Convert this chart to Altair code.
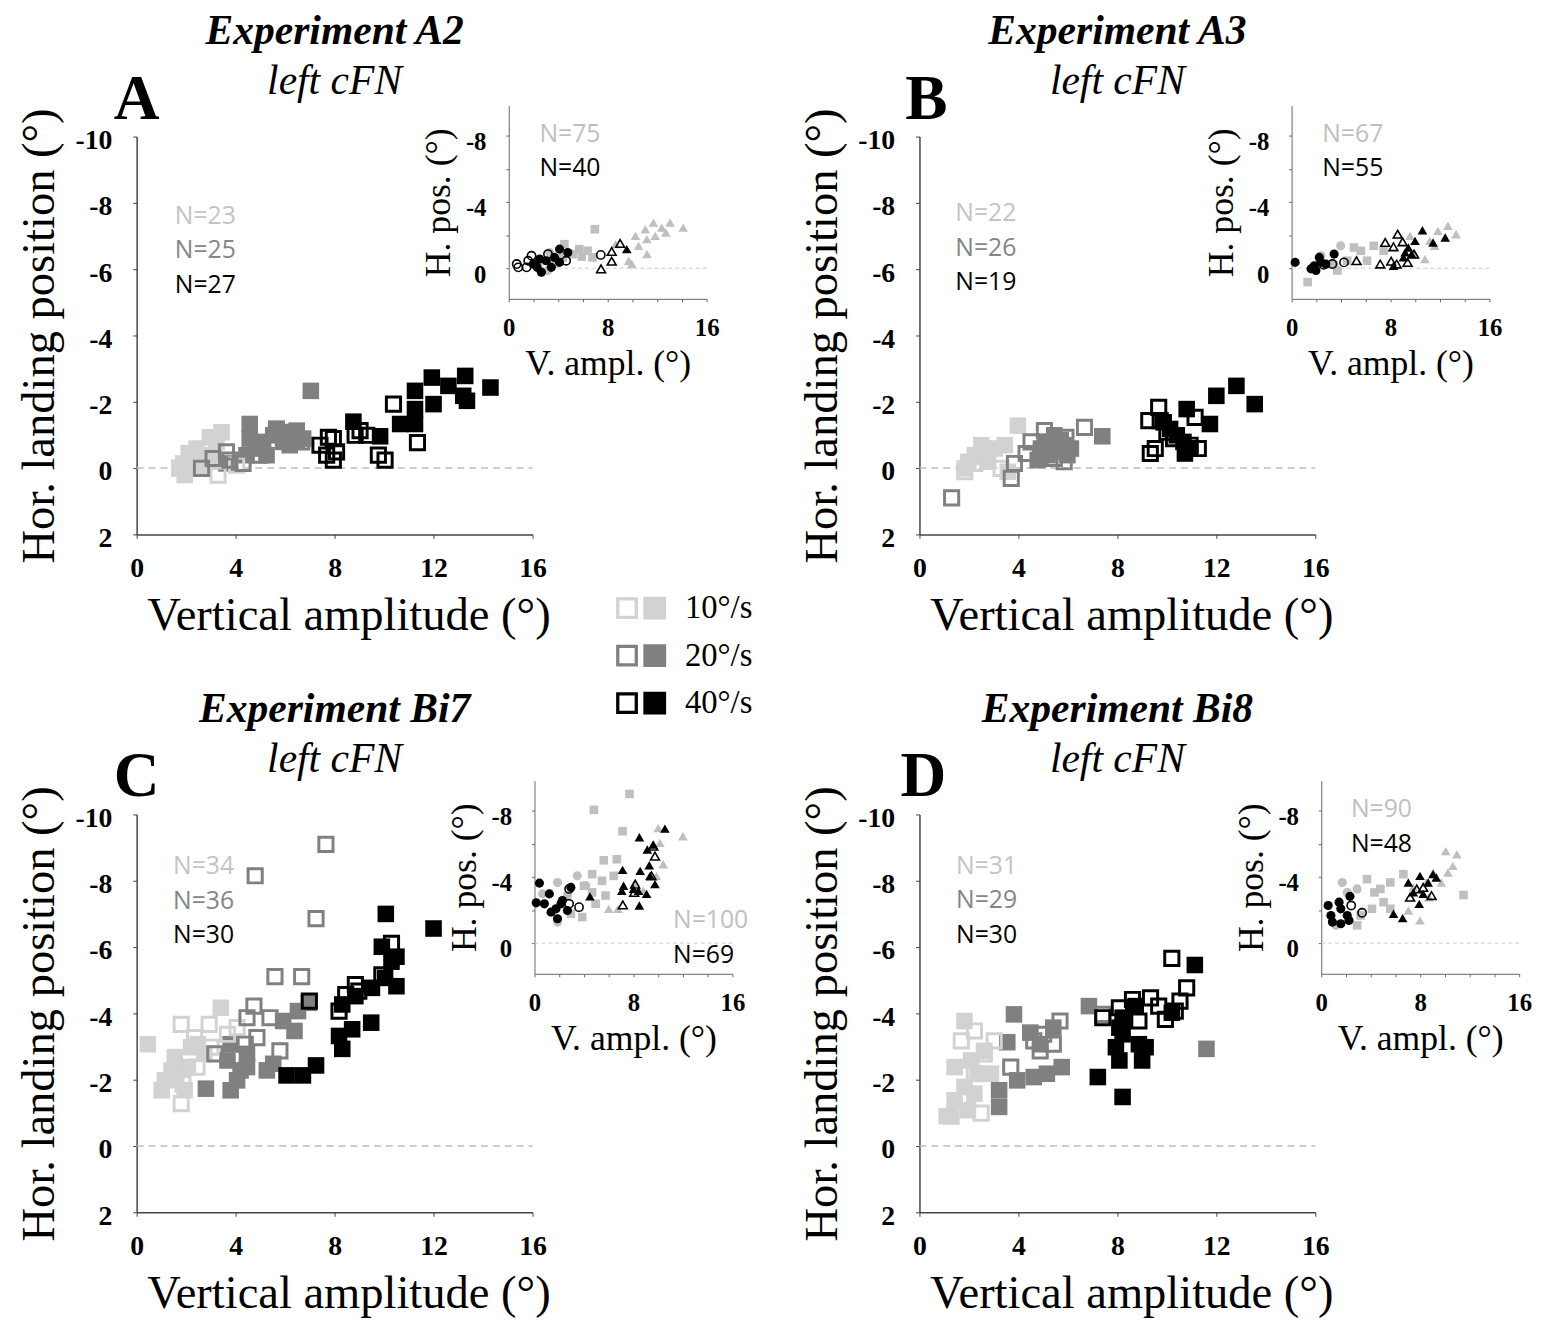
import altair as alt
import pandas as pd

# ------------------------------------------------------------------ data
SPEEDS = ["10°/s", "20°/s", "40°/s"]
OPEN_KEYS = ["open 10°/s", "open 20°/s", "open 40°/s"]

# Panel A (Experiment A2) : (vertical amplitude, horizontal landing position)
A_S10_FILLED = [(3.43, -1.08), (2.96, -0.93), (2.42, -0.59), (1.88, -0.14), (2.28, -0.29), (1.74, 0.01),
                (1.94, 0.21), (2.68, -0.39), (3.23, -0.79), (2.1, -0.45), (3.0, -0.2), (2.5, -0.05)]
A_S10_OPEN = [(1.74, 0.0), (3.29, 0.21), (2.15, -0.19), (4.04, -0.09), (2.6, -0.3)]
A_S20_FILLED = [(7.04, -2.33), (4.57, -1.33), (4.57, -0.89), (4.85, -0.59), (5.11, -0.79), (5.52, -0.99),
                (5.65, -1.18), (6.06, -1.08), (6.47, -1.13), (6.47, -0.84), (5.92, -0.79), (5.25, -0.39),
                (4.44, -0.39), (3.63, -0.14), (6.73, -0.89), (6.19, -0.69)]
A_S20_OPEN = [(2.62, 0.01), (3.09, -0.29), (3.63, -0.49), (4.3, -0.14), (5.65, -1.18), (6.67, -0.79),
              (3.77, -0.24), (4.98, -0.39), (5.86, -1.08)]
A_S40_FILLED = [(8.76, -1.40), (9.84, -0.96), (11.25, -2.33), (11.25, -1.78), (10.65, -1.33), (11.25, -1.33),
                (11.93, -2.73), (12.0, -1.93), (12.6, -2.48), (13.28, -2.78), (13.2, -2.18), (13.35, -2.03),
                (14.3, -2.43)]
A_S40_OPEN = [(10.38, -1.93), (11.35, -0.77), (7.41, -0.69), (7.95, -0.89), (8.08, -0.49), (7.68, -0.39),
              (7.95, -0.24), (8.83, -0.99), (9.3, -0.99), (9.77, -0.39), (10.04, -0.24), (7.75, -0.93),
              (9.03, -1.13)]

# Panel B (Experiment A3)
B_S10_FILLED = [(3.98, -1.28), (2.5, -0.69), (1.97, -0.19), (2.24, -0.39), (3.04, -0.59), (3.45, -0.69),
                (2.77, -0.19), (3.57, 0.11), (1.83, 0.01), (2.7, -0.45)]
B_S10_OPEN = [(1.83, 0.11), (2.24, -0.14), (3.3, 0.01), (2.64, -0.34)]
B_S20_FILLED = [(7.39, -0.96), (5.45, -0.99), (5.85, -0.69), (5.18, -0.39), (4.91, -0.59), (5.98, -0.39),
                (4.78, -0.24), (5.71, -0.84), (5.31, -0.69), (6.12, -0.59), (5.6, -0.5), (5.1, -0.8)]
B_S20_OPEN = [(1.3, 0.9), (3.71, 0.31), (3.84, -0.14), (4.31, -0.44), (4.51, -0.79), (5.05, -1.13),
              (6.67, -1.23), (5.92, -0.93), (5.85, -0.19), (5.45, -0.29)]
B_S40_FILLED = [(10.8, -1.78), (12.0, -2.18), (12.81, -2.48), (13.55, -1.93), (11.74, -1.33), (9.87, -1.38),
                (10.13, -1.18), (10.4, -0.99), (10.67, -0.79), (10.73, -0.44), (10.94, -0.59)]
B_S40_OPEN = [(9.67, -1.83), (9.27, -1.43), (9.73, -1.43), (11.14, -1.53), (9.33, -0.44), (9.53, -0.59),
              (11.27, -0.59), (10.94, -0.69), (10.0, -1.08), (10.27, -0.89)]

# Panel C (Experiment Bi7)
C_S10_FILLED = [(3.4, -4.17), (0.45, -3.07), (1.54, -2.68), (1.14, -1.98), (2.07, -2.38), (2.47, -3.07),
                (2.74, -2.78), (1.94, -1.68), (1.41, -2.28), (2.2, -2.98), (1.01, -1.68), (1.6, -2.0)]
C_S10_OPEN = [(1.8, -3.67), (2.93, -3.67), (4.06, -3.57), (2.34, -3.27), (1.8, -1.28), (1.87, -1.88),
              (2.44, -2.38), (3.0, -2.98), (3.67, -3.37), (1.54, -2.18)]
C_S20_FILLED = [(6.96, -4.32), (6.52, -4.07), (6.38, -3.47), (5.92, -3.77), (5.52, -2.48), (5.26, -2.28),
                (4.46, -2.78), (3.8, -3.07), (3.67, -2.58), (4.2, -2.28), (3.8, -1.68), (2.8, -1.73),
                (4.06, -1.98), (4.46, -2.38)]
C_S20_OPEN = [(7.65, -9.1), (4.79, -8.15), (7.25, -6.86), (5.59, -5.11), (6.67, -5.11), (4.74, -4.22),
              (5.39, -3.87), (4.46, -3.87), (4.86, -3.27), (5.79, -2.87), (3.16, -2.78), (4.39, -3.07)]
C_S40_FILLED = [(10.07, -7.0), (12.0, -6.56), (9.91, -6.01), (10.5, -5.71), (10.04, -5.07), (10.5, -4.82),
                (9.51, -4.77), (8.31, -4.27), (8.84, -4.52), (9.48, -3.72), (8.71, -3.52), (8.18, -3.32),
                (8.31, -2.93), (7.25, -2.43), (6.72, -2.13), (6.06, -2.13), (10.3, -5.56)]
C_S40_OPEN = [(10.3, -6.11), (8.84, -4.87), (8.45, -4.57), (6.98, -4.37), (9.91, -5.16), (8.98, -4.67),
              (8.18, -4.07)]

# Panel D (Experiment Bi8)
D_S10_FILLED = [(1.82, -3.77), (1.42, -2.38), (2.09, -2.58), (2.62, -2.87), (1.82, -1.78), (1.42, -1.38),
                (1.29, -0.89), (2.22, -1.58), (2.89, -2.18), (1.96, -1.08), (2.35, -2.18), (1.1, -0.9)]
D_S10_OPEN = [(2.22, -3.47), (3.02, -3.17), (2.62, -2.78), (2.22, -2.18), (2.49, -0.99), (1.69, -3.17)]
D_S20_FILLED = [(11.6, -2.93), (6.85, -4.22), (3.82, -3.97), (3.55, -3.13), (4.48, -3.42), (5.41, -3.57),
                (5.75, -2.38), (5.15, -2.18), (4.62, -2.08), (3.95, -1.98), (3.22, -1.68), (3.22, -1.18),
                (4.88, -3.07)]
D_S20_OPEN = [(5.68, -3.77), (7.41, -3.97), (3.69, -2.38), (4.62, -3.17), (5.02, -3.37), (5.41, -3.07),
              (4.88, -2.87)]
D_S40_FILLED = [(11.13, -5.46), (10.2, -4.02), (8.74, -4.22), (8.21, -3.87), (8.08, -3.57), (8.21, -3.37),
                (8.87, -3.07), (9.14, -2.98), (7.94, -2.98), (8.08, -2.58), (9.0, -2.58), (7.21, -2.08),
                (8.21, -1.48)]
D_S40_OPEN = [(10.2, -5.66), (10.8, -4.77), (10.53, -4.37), (10.34, -4.07), (9.34, -4.47), (8.61, -4.42),
              (8.08, -4.17), (9.67, -4.22), (9.94, -3.82), (8.87, -3.77), (7.41, -3.87)]

# Insets: (V. ampl., H. pos.)
IA_GREY_CIR = [(3.3, -0.95), (2.77, -0.45), (3.7, -0.25), (3.17, 0.14), (2.2, -0.3)]
IA_GREY_SQ = [(6.96, -2.35), (4.5, -1.45), (5.7, -1.15), (6.37, -1.05), (5.17, -0.85), (6.77, -0.65),
              (4.37, -0.65), (5.9, -0.7)]
IA_GREY_TRI = [(8.64, -1.45), (10.24, -1.95), (11.04, -2.35), (11.7, -2.75), (12.37, -2.45), (13.04, -2.75),
               (14.1, -2.45), (11.84, -1.95), (12.7, -2.15), (11.17, -1.75), (10.5, -1.35), (11.17, -0.85),
               (9.7, -0.45), (9.95, -0.25)]
IA_BLACK_CIR = [(4.11, -1.15), (4.77, -0.95), (2.5, -0.55), (1.97, -0.25), (3.04, -0.45), (2.64, 0.24),
                (3.44, -0.05), (4.1, -0.35), (2.3, -0.05), (3.7, -0.65)]
IA_BLACK_CIR_OPEN = [(0.77, -0.05), (0.64, -0.25), (1.57, -0.45), (1.44, -0.05), (1.84, -0.75), (3.17, -0.85),
                     (7.44, -0.8), (4.64, -0.45)]
IA_BLACK_TRI = [(9.54, -1.15)]
IA_BLACK_TRI_OPEN = [(9.0, -1.49), (8.32, -1.01), (8.32, -0.42), (7.46, 0.04)]

IB_GREY_CIR = [(3.97, -1.35), (2.37, -0.75), (3.44, -0.25)]
IB_GREY_SQ = [(6.64, -1.35), (5.04, -1.25), (5.6, -1.05), (7.44, -1.05), (4.5, -0.45), (6.1, -0.45),
              (3.7, 0.14), (1.3, 0.84)]
IB_GREY_TRI = [(12.64, -2.55), (11.84, -2.25), (13.3, -2.05), (9.58, -1.95), (11.18, -1.65), (11.58, -1.35),
               (10.78, -0.55), (9.98, -0.85)]
IB_BLACK_CIR = [(0.29, -0.35), (2.24, -0.65), (3.44, -0.85), (1.84, -0.15), (2.37, -0.35), (1.57, 0.04),
                (2.77, -0.25), (1.97, 0.14)]
IB_BLACK_CIR_OPEN = [(4.24, -0.35), (3.3, -0.25), (2.6, -0.2)]
IB_BLACK_TRI = [(10.58, -2.29), (12.42, -1.85), (11.44, -1.55), (9.98, -1.65), (9.44, -1.25), (9.18, -0.95),
                (9.7, -0.85), (8.24, -0.15), (9.04, -0.65)]
IB_BLACK_TRI_OPEN = [(5.25, -0.45), (7.57, -1.55), (8.58, -2.05), (8.98, -1.59), (8.24, -1.29), (7.17, -0.25),
                     (8.05, -0.42), (8.5, -0.25), (9.38, -0.35), (9.9, -0.85)]

IC_GREY_CIR = [(0.66, -2.97), (1.86, -3.66), (3.46, -4.06), (4.14, -3.46), (2.66, -2.87), (1.86, -1.27)]
IC_GREY_SQ = [(7.68, -9.0), (4.8, -8.04), (7.12, -6.75), (5.6, -5.0), (6.66, -5.06), (4.66, -4.16),
              (5.46, -3.76), (6.4, -4.06), (4.0, -3.46), (4.66, -3.06), (5.74, -2.87), (3.86, -1.57),
              (2.94, -1.77), (4.94, -2.37)]
IC_GREY_TRI = [(10.0, -6.94), (12.0, -6.45), (10.14, -6.05), (10.4, -4.76), (9.86, -4.06), (8.8, -3.16),
               (8.14, -3.66), (6.0, -2.07), (6.74, -2.07)]
IC_BLACK_CIR = [(0.4, -3.62), (1.2, -2.97), (0.14, -2.43), (0.8, -2.37), (1.74, -2.07), (1.34, -1.87),
                (2.26, -2.57), (2.94, -3.36), (1.86, -1.47), (2.66, -1.97), (2.14, -2.37)]
IC_BLACK_CIR_OPEN = [(2.8, -3.27), (3.6, -2.17), (2.8, -2.37)]
IC_BLACK_TRI = [(10.54, -6.91), (8.48, -6.39), (9.12, -5.65), (9.6, -5.95), (9.28, -4.70), (8.54, -4.36),
                (7.12, -4.42), (7.2, -3.46), (7.06, -3.16), (8.0, -3.27), (8.4, -3.16), (9.06, -2.97),
                (9.74, -3.56), (4.48, -2.82), (8.48, -2.27), (9.34, -4.06)]
IC_BLACK_TRI_OPEN = [(9.74, -5.25), (9.6, -5.85), (9.46, -4.06), (8.14, -3.56), (8.06, -3.06), (7.14, -2.31)]

ID_GREY_CIR = [(1.7, -3.66), (2.1, -3.06), (1.18, -1.07), (2.9, -3.27)]
ID_GREY_SQ = [(11.5, -2.9), (6.64, -4.16), (3.7, -3.86), (5.58, -3.66), (4.78, -3.27), (4.3, -3.06),
              (5.04, -2.47), (4.1, -2.07), (3.18, -1.67), (2.9, -1.07), (5.58, -2.07)]
ID_GREY_TRI = [(10.06, -5.55), (10.96, -5.35), (10.64, -4.66), (10.24, -4.26), (9.04, -4.26), (9.7, -3.66),
               (8.5, -3.66), (7.98, -1.37), (7.04, -1.97), (8.7, -2.77), (7.44, -3.36)]
ID_BLACK_CIR = [(2.32, -2.82), (0.56, -2.27), (0.78, -1.67), (1.58, -2.07), (2.1, -1.67), (0.9, -1.27),
                (1.58, -1.17), (2.24, -1.37), (1.44, -2.47)]
ID_BLACK_CIR_OPEN = [(2.42, -2.27), (3.3, -1.83)]
ID_BLACK_TRI = [(5.84, -1.77), (6.58, -1.51), (7.92, -2.37), (7.04, -3.66), (7.98, -4.06), (9.04, -4.16),
                (9.3, -3.96), (8.24, -2.97), (7.44, -3.06), (8.64, -3.66)]
ID_BLACK_TRI_OPEN = [(7.18, -2.77), (7.72, -3.27), (8.92, -2.87), (8.24, -3.36)]

TITLES = ["Experiment A2", "Experiment A3", "Experiment Bi7", "Experiment Bi8"]
SUBTITLE = "left cFN"
LETTERS = ["A", "B", "C", "D"]
N_MAIN = [["N=23", "N=25", "N=27"], ["N=22", "N=26", "N=19"],
          ["N=34", "N=36", "N=30"], ["N=31", "N=29", "N=30"]]
N_INSET = [["N=75", "N=40"], ["N=67", "N=55"], ["N=100", "N=69"], ["N=90", "N=48"]]

MAIN = [
    {"10°/s": (A_S10_FILLED, A_S10_OPEN), "20°/s": (A_S20_FILLED, A_S20_OPEN), "40°/s": (A_S40_FILLED, A_S40_OPEN)},
    {"10°/s": (B_S10_FILLED, B_S10_OPEN), "20°/s": (B_S20_FILLED, B_S20_OPEN), "40°/s": (B_S40_FILLED, B_S40_OPEN)},
    {"10°/s": (C_S10_FILLED, C_S10_OPEN), "20°/s": (C_S20_FILLED, C_S20_OPEN), "40°/s": (C_S40_FILLED, C_S40_OPEN)},
    {"10°/s": (D_S10_FILLED, D_S10_OPEN), "20°/s": (D_S20_FILLED, D_S20_OPEN), "40°/s": (D_S40_FILLED, D_S40_OPEN)},
]
INSETS = [
    [IA_GREY_CIR, IA_GREY_SQ, IA_GREY_TRI, IA_BLACK_CIR, IA_BLACK_CIR_OPEN, IA_BLACK_TRI, IA_BLACK_TRI_OPEN],
    [IB_GREY_CIR, IB_GREY_SQ, IB_GREY_TRI, IB_BLACK_CIR, IB_BLACK_CIR_OPEN, IB_BLACK_TRI, IB_BLACK_TRI_OPEN],
    [IC_GREY_CIR, IC_GREY_SQ, IC_GREY_TRI, IC_BLACK_CIR, IC_BLACK_CIR_OPEN, IC_BLACK_TRI, IC_BLACK_TRI_OPEN],
    [ID_GREY_CIR, ID_GREY_SQ, ID_GREY_TRI, ID_BLACK_CIR, ID_BLACK_CIR_OPEN, ID_BLACK_TRI, ID_BLACK_TRI_OPEN],
]

# ------------------------------------------------------------------ styling / layout
SERIF = "Liberation Serif"
SANS = "Open Sans"
MAIN_COLORS = ["#d2d2d2", "#808080", "#000000"]
N_COLORS = ["#c4c4c4", "#858585", "#000000"]
INSET_GREY = "#bfbfbf"
INSET_STYLES = [  # colour, shape, filled, size
    (INSET_GREY, "circle", True, 85), (INSET_GREY, "square", True, 75), (INSET_GREY, "triangle-up", True, 95),
    ("#000000", "circle", True, 85), ("#000000", "circle", False, 70),
    ("#000000", "triangle-up", True, 95), ("#000000", "triangle-up", False, 80),
]
W, H = 400, 402
INSET_W = 200
INSET_PX = 16.75
INSET_DOM = [-9.8, 1.85]
# per panel: inset origin (x of 0, y of 0) in panel pixels, N label anchors, letter x
INSET_X0 = [376, 376, 402, 406]
INSET_Y0 = [133, 133, 130, 130]
N_MAIN_X = [1.54, 1.45, 1.47, 1.48]
N_MAIN_Y = [[-7.61, -6.57, -5.52], [-7.7, -6.63, -5.61], [-8.45, -7.40, -6.36], [-8.45, -7.43, -6.36]]
N_INSET_POS = [[(2.48, -8.12), (2.48, -6.03)], [(2.48, -8.12), (2.48, -6.03)],
               [(11.2, -1.37), (11.2, 0.72)], [(2.4, -8.06), (2.4, -5.97)]]
LETTER_POS = [(0.0, -11.11), (0.28, -11.11), (0.0, -11.11), (0.16, -11.11)]

NEG = "datum.value < 0 ? '-' + abs(datum.value) : '' + datum.value"


def pts(points, **cols):
    d = pd.DataFrame(points, columns=["x", "y"])
    for k, v in cols.items():
        d[k] = v
    return d


def build_panel(i):
    xs = alt.Scale(domain=[0, 16], nice=False, zero=False)
    ys = alt.Scale(domain=[-10, 2], reverse=True, nice=False, zero=False)
    X = alt.X("x:Q", scale=xs, axis=alt.Axis(
        values=[0, 4, 8, 12, 16], title="Vertical amplitude (°)", grid=False,
        labelFont=SERIF, labelFontSize=28, labelFontWeight="bold", labelColor="black",
        labelPadding=17, labelFlush=False, labelOverlap=False,
        tickSize=4, tickColor="#444", domainColor="#444", domainWidth=1.5,
        titleFont=SERIF, titleFontSize=47, titleFontWeight="normal", titleColor="black", titlePadding=10,
        titleX=214))
    Y = alt.Y("y:Q", scale=ys, axis=alt.Axis(
        values=list(range(-10, 3, 2)), labelExpr=NEG, title="Hor. landing position (°)", grid=False,
        labelFont=SERIF, labelFontSize=28, labelFontWeight="bold", labelColor="black",
        labelPadding=21, labelFlush=False, labelOverlap=False, labelOffset=4,
        tickSize=4, tickColor="#444", domainColor="#444", domainWidth=1.5,
        titleFont=SERIF, titleFontSize=47, titleFontWeight="normal", titleColor="black", titlePadding=12))

    main = MAIN[i]
    filled = pd.concat([pts(main[s][0], speed=s) for s in SPEEDS], ignore_index=True)
    opened = pd.concat([pts(main[s][1], okey=OPEN_KEYS[j]) for j, s in enumerate(SPEEDS)], ignore_index=True)

    if i == 0:
        fill_legend = alt.Legend(orient="none", legendX=507, legendY=460, title=None, padding=0,
                                 symbolType="square", symbolSize=530, symbolStrokeWidth=0,
                                 labelFont=SERIF, labelFontSize=33, labelColor="black", labelOffset=14,
                                 rowPadding=14)
        open_legend = alt.Legend(orient="none", legendX=479, legendY=460, title=None, padding=0,
                                 symbolType="square", symbolSize=350, symbolStrokeWidth=3.3,
                                 labelExpr="''", labelFontSize=33, labelOffset=0, rowPadding=14)
    else:
        fill_legend = None
        open_legend = None

    zero = alt.Chart(pd.DataFrame({"x": [0], "x2": [16], "y": [0]})).mark_rule(
        color="#bdbdbd", strokeWidth=1.5, strokeDash=[7, 5]).encode(x=X, x2="x2:Q", y=Y)
    filled_layer = alt.Chart(filled).mark_square(size=280, opacity=1, strokeWidth=0).encode(
        x=X, y=Y, fill=alt.Fill("speed:N", scale=alt.Scale(domain=SPEEDS, range=MAIN_COLORS), legend=fill_legend))
    open_layer = alt.Chart(opened).mark_point(shape="square", filled=False, size=205, strokeWidth=3,
                                              opacity=1).encode(
        x=X, y=Y, stroke=alt.Stroke("okey:N", scale=alt.Scale(domain=OPEN_KEYS, range=MAIN_COLORS),
                                    legend=open_legend))
    texts = []
    for j in range(3):
        df = pd.DataFrame({"x": [N_MAIN_X[i]], "y": [N_MAIN_Y[i][j]], "t": [N_MAIN[i][j]]})
        texts.append(alt.Chart(df).mark_text(align="left", baseline="middle", font=SANS, fontSize=25,
                                             color=N_COLORS[j]).encode(x=X, y=Y, text="t:N"))
    lx, ly = LETTER_POS[i]
    letter = alt.Chart(pd.DataFrame({"x": [lx], "y": [ly], "t": [LETTERS[i]]})).mark_text(
        align="center", baseline="middle", font=SERIF, fontSize=64, fontWeight="bold", color="black"
    ).encode(x=X, y=Y, text="t:N")
    main_group = alt.layer(zero, filled_layer, open_layer, *texts, letter)

    # ---- inset
    x0, y0 = INSET_X0[i], INSET_Y0[i]
    top_px = y0 + INSET_DOM[0] * INSET_PX
    bot_px = y0 + INSET_DOM[1] * INSET_PX
    XI = alt.X("x:Q", scale=alt.Scale(domain=[0, 16], range=[x0, x0 + INSET_W], nice=False, zero=False),
               axis=alt.Axis(orient="bottom", offset=bot_px - H, values=list(range(0, 17, 2)),
                             labelExpr="datum.value % 8 == 0 ? '' + datum.value : ''",
                             title="V. ampl. (°)", grid=False,
                             labelFont=SERIF, labelFontSize=25, labelFontWeight="bold", labelColor="black",
                             labelPadding=14, labelFlush=False, labelOverlap=False,
                             tickSize=3, tickColor="#666", domainColor="#666", domainWidth=1,
                             titleFont=SERIF, titleFontSize=36, titleFontWeight="normal", titleColor="black",
                             titlePadding=6))
    YI = alt.Y("y:Q", scale=alt.Scale(domain=INSET_DOM, range=[top_px, bot_px], nice=False, zero=False),
               axis=alt.Axis(orient="left", offset=-x0, values=[-8, -6, -4, -2, 0],
                             labelExpr="datum.value % 4 == 0 ? (" + NEG + ") : ''",
                             title="H. pos. (°)", grid=False,
                             labelFont=SERIF, labelFontSize=25, labelFontWeight="bold", labelColor="black",
                             labelPadding=20, labelFlush=False, labelOverlap=False, labelOffset=6,
                             tickSize=3, tickColor="#666", domainColor="#666", domainWidth=1,
                             titleFont=SERIF, titleFontSize=36, titleFontWeight="normal", titleColor="black",
                             titlePadding=8))
    inset_zero = alt.Chart(pd.DataFrame({"x": [0], "x2": [16], "y": [0]})).mark_rule(
        color="#cccccc", strokeWidth=1, strokeDash=[4, 3]).encode(x=XI, x2="x2:Q", y=YI)
    inset_layers = [inset_zero]
    for series, (col, shp, fil, sz) in zip(INSETS[i], INSET_STYLES):
        if fil:
            mk = alt.Chart(pts(series)).mark_point(shape=shp, filled=True, size=sz, color=col, opacity=1)
        else:
            mk = alt.Chart(pts(series)).mark_point(shape=shp, filled=False, size=sz, color=col, opacity=1,
                                                   strokeWidth=1.6)
        inset_layers.append(mk.encode(x=XI, y=YI))
    for j in range(2):
        nx, ny = N_INSET_POS[i][j]
        df = pd.DataFrame({"x": [nx], "y": [ny], "t": [N_INSET[i][j]]})
        inset_layers.append(alt.Chart(df).mark_text(
            align="left", baseline="middle", font=SANS, fontSize=25,
            color=[INSET_GREY, "#000000"][j]).encode(x=XI, y=YI, text="t:N"))
    inset_group = alt.layer(*inset_layers)

    return alt.layer(main_group, inset_group).resolve_scale(x="independent", y="independent").properties(
        width=W, height=H,
        title=alt.TitleParams(text=TITLES[i], subtitle=SUBTITLE, anchor="middle", frame="group",
                              font=SERIF, fontSize=42, fontStyle="italic", fontWeight="bold", color="black",
                              subtitleFont=SERIF, subtitleFontSize=42, subtitleFontStyle="italic",
                              subtitleColor="black", subtitlePadding=8, offset=0, dy=35))


panels = [build_panel(i) for i in range(4)]
chart = alt.concat(*panels, columns=2, spacing={"row": 283, "column": 391}, bounds="flush").resolve_scale(
    fill="independent", stroke="independent").properties(
    padding={"left": 7, "top": -5, "right": 5, "bottom": 5}, background="white"
).configure_view(stroke="transparent")

chart.save("out.html", embed_options={"renderer": "svg", "actions": False})
